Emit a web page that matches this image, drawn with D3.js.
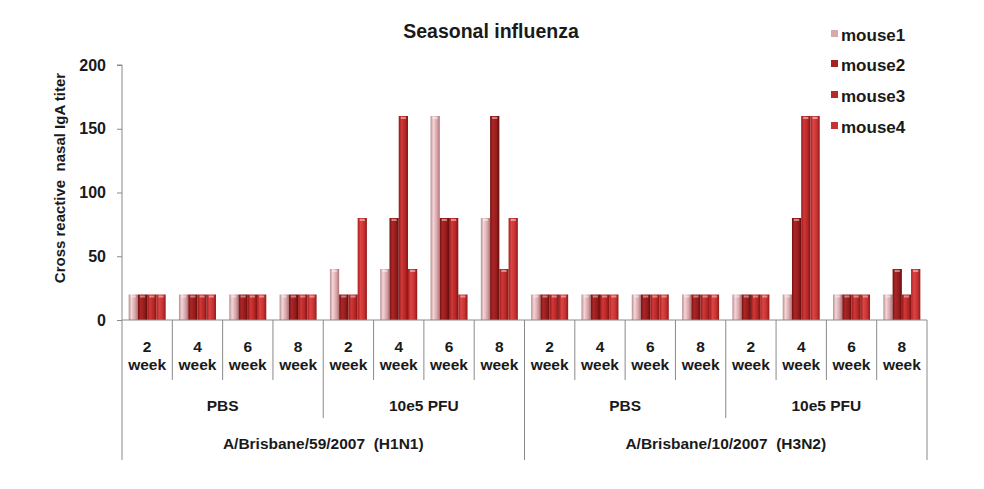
<!DOCTYPE html>
<html><head><meta charset="utf-8">
<script src="https://cdn.jsdelivr.net/npm/d3@7"></script>
<style>body{margin:0;background:#fff}svg{display:block}text{font-family:Arial,"Liberation Sans",sans-serif;font-weight:bold;fill:#1a1a1a;white-space:pre}</style>
</head><body><svg id="c" width="984" height="489"></svg>
<script>
const weeks = ["2","4","6","8"];
const doses = ["PBS","10e5 PFU"];
const strains = ["A/Brisbane/59/2007  (H1N1)","A/Brisbane/10/2007  (H3N2)"];
const seriesNames = ["mouse1","mouse2","mouse3","mouse4"];
const mouse1 = [20,20,20,20, 40,40,160,80, 20,20,20,20, 20,20,20,20];
const mouse2 = [20,20,20,20, 20,80,80,160, 20,20,20,20, 20,80,20,40];
const mouse3 = [20,20,20,20, 20,160,80,40, 20,20,20,20, 20,160,20,20];
const mouse4 = [20,20,20,20, 80,40,20,80, 20,20,20,20, 20,160,20,40];
const yTicks = [0,50,100,150,200];
const seriesValues = [mouse1,mouse2,mouse3,mouse4];
const colorStops = [
  ["#b98c90","#f2d6d8","#d9a3a7","#a87579"],
  ["#741010","#ad2626","#921c1c","#640c0c"],
  ["#941818","#d03838","#b52626","#801212"],
  ["#a41e1e","#de4444","#c43232","#921818"]
];
const legendSwatch = ["#d7a9ac","#a32222","#bb2828","#c53434"];

const cats = [];
strains.forEach((s,si)=>doses.forEach((d,di)=>weeks.forEach((w,wi)=>cats.push({s:si,d:di,w:wi,key:`${si}-${di}-${wi}`}))));

const svg = d3.select("#c");
const defs = svg.append("defs");
colorStops.forEach((st,i)=>{
  const g = defs.append("linearGradient").attr("id","g"+i).attr("x1","0").attr("x2","1").attr("y1","0").attr("y2","0");
  [0,0.3,0.7,1].forEach((o,j)=>g.append("stop").attr("offset",o).attr("stop-color",st[j]));
});

const x0 = 122, x1 = 927, yTop = 65, yBot = 320;
const x = d3.scaleBand().domain(cats.map(c=>c.key)).range([x0,x1]).paddingInner(0).paddingOuter(0);
const xs = d3.scaleBand().domain(seriesNames).range([0,x.bandwidth()]).paddingInner(0).paddingOuter(0.72);
const y = d3.scaleLinear().domain([0,200]).range([yBot,yTop]);

// bars
seriesNames.forEach((name,si)=>{
  svg.append("g").selectAll("rect").data(seriesValues[si]).join("rect")
    .attr("x",(v,i)=>x(cats[i].key)+xs(name))
    .attr("width",xs.bandwidth())
    .attr("y",v=>y(v))
    .attr("height",v=>y(0)-y(v))
    .attr("fill",`url(#g${si})`);
  svg.append("g").selectAll("rect").data(seriesValues[si]).join("rect")
    .attr("x",(v,i)=>x(cats[i].key)+xs(name)+2)
    .attr("width",xs.bandwidth()-4)
    .attr("y",v=>y(v)+1)
    .attr("height",2)
    .attr("fill","#ffffff").attr("opacity",0.45);
});

// y axis
const yAxis = d3.axisLeft(y).tickValues(yTicks).tickSize(5).tickPadding(11);
const ga = svg.append("g").attr("transform",`translate(${x0},0)`).call(yAxis);
ga.select(".domain").attr("stroke","#8a8a8a").attr("d",`M-5,${yTop}H0V${yBot}`);
ga.selectAll(".tick line").attr("stroke","#8a8a8a");
ga.selectAll(".tick text").style("font-size","16px").style("font-family","Arial").style("font-weight","bold").attr("fill","#1a1a1a");

svg.append("line").attr("x1",x0).attr("x2",x1).attr("y1",yBot).attr("y2",yBot).attr("stroke","#8a8a8a");

// separators
const lineCol = "#8a8a8a";
cats.forEach(c=>{
  const xx = x(c.key);
  let len = 60;
  if (c.w===0) len = 98;
  if (c.w===0 && c.d===0) len = 140;
  svg.append("line").attr("x1",xx).attr("x2",xx).attr("y1",yBot).attr("y2",yBot+len).attr("stroke",lineCol);
});
svg.append("line").attr("x1",x1).attr("x2",x1).attr("y1",yBot).attr("y2",yBot+140).attr("stroke",lineCol);

cats.forEach(c=>{
  const cx = x(c.key)+x.bandwidth()/2;
  svg.append("text").attr("x",cx).attr("y",352).attr("text-anchor","middle").style("font-size","15.5px").text(weeks[c.w]);
  svg.append("text").attr("x",cx).attr("y",370).attr("text-anchor","middle").style("font-size","15.5px").text("week");
});
strains.forEach((s,si)=>doses.forEach((d,di)=>{
  const first = x(`${si}-${di}-0`), last = x(`${si}-${di}-3`)+x.bandwidth();
  svg.append("text").attr("x",(first+last)/2).attr("y",411).attr("text-anchor","middle").style("font-size","15.5px").text(d);
}));
strains.forEach((s,si)=>{
  const first = x(`${si}-0-0`), last = x(`${si}-1-3`)+x.bandwidth();
  svg.append("text").attr("x",(first+last)/2).attr("y",449).attr("text-anchor","middle").style("font-size","15.5px").text(s);
});

svg.append("text").attr("x",491).attr("y",38).attr("text-anchor","middle").style("font-size","19.5px").text("Seasonal influenza");

svg.append("text").attr("transform","translate(65,178) rotate(-90)").attr("text-anchor","middle").style("font-size","15px").text("Cross reactive  nasal IgA titer");

const ly = [35,65,96,127];
seriesNames.forEach((n,i)=>{
  svg.append("rect").attr("x",831).attr("y",ly[i]-5).attr("width",7).attr("height",7).attr("fill",legendSwatch[i]);
  svg.append("text").attr("x",841).attr("y",ly[i]+6).style("font-size","17px").text(n);
});
</script></body></html>
